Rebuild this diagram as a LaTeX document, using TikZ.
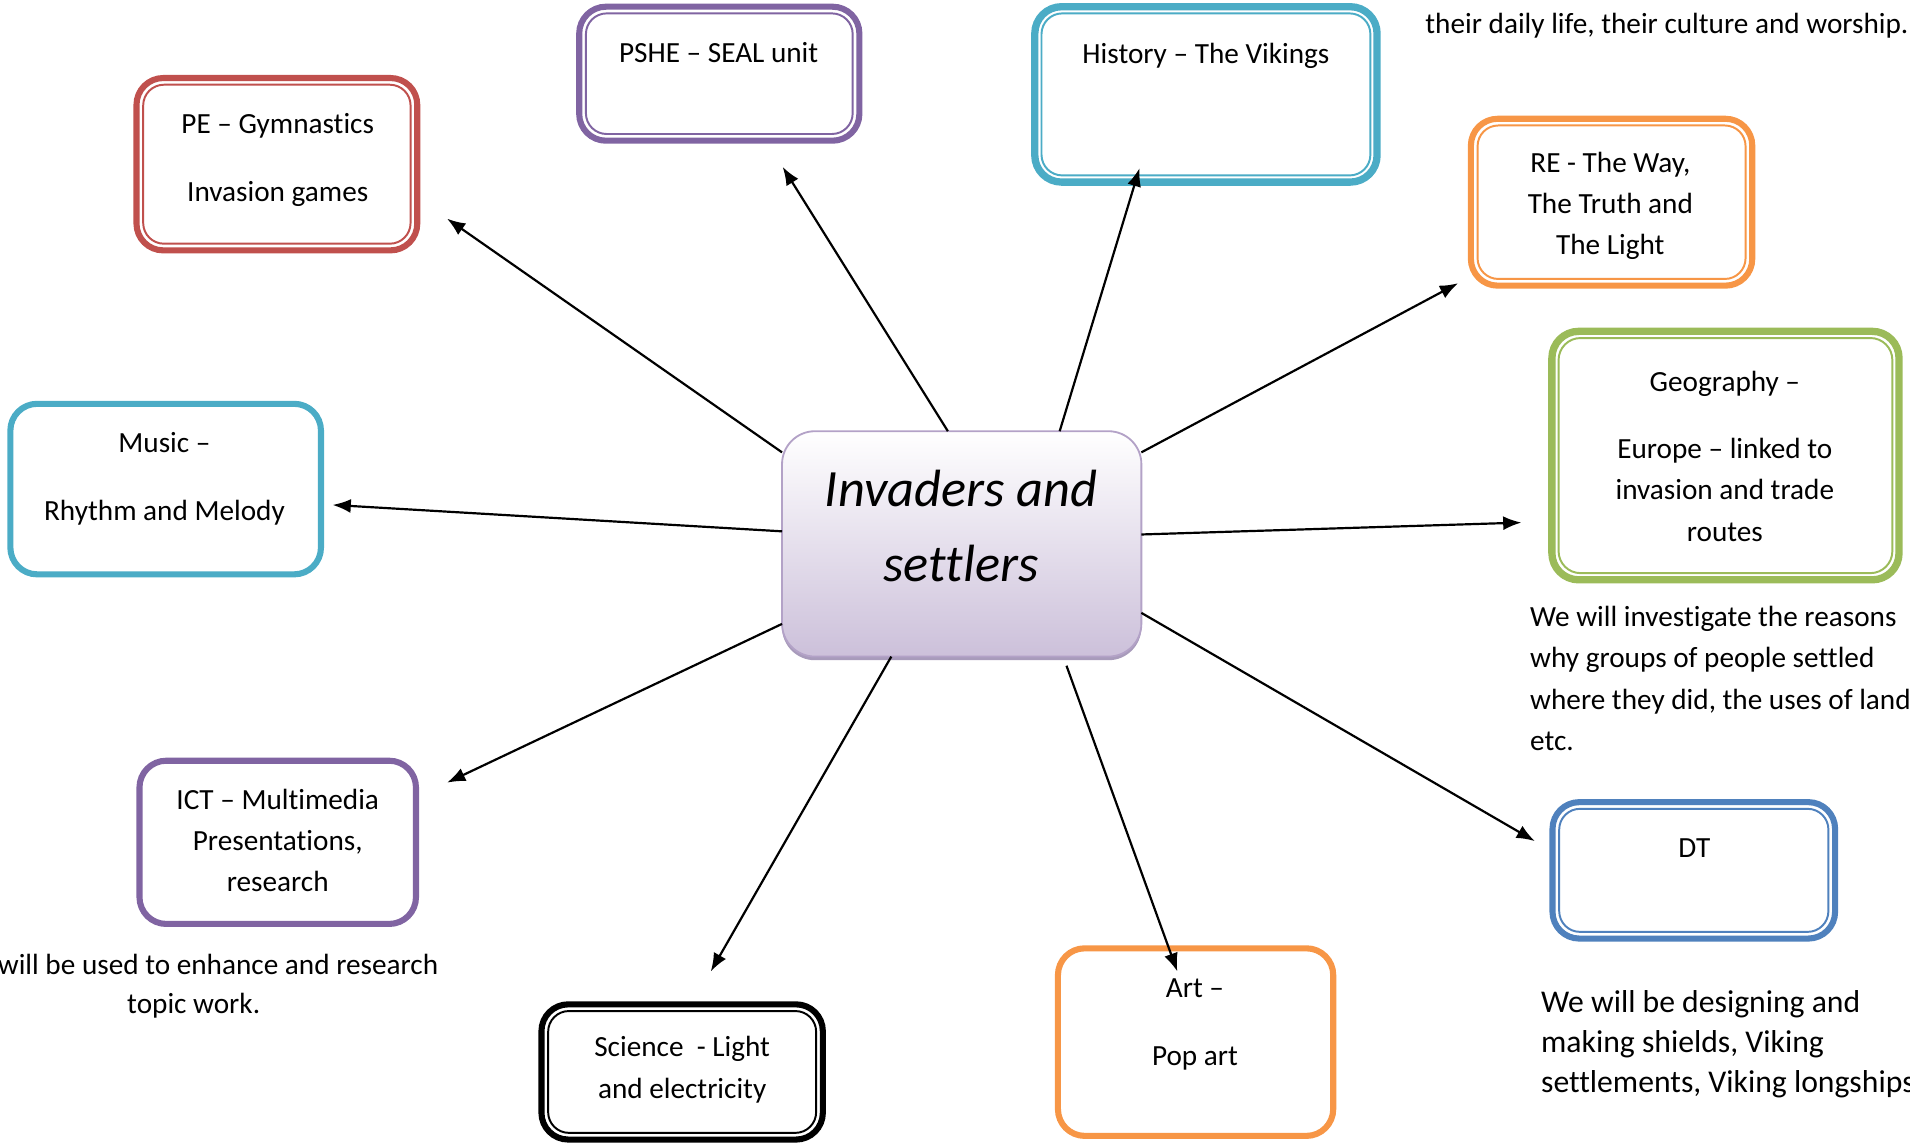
\documentclass[tikz,border=0pt]{standalone}
\usepackage{fontspec}
\setmainfont{Carlito}[RawFeature=-liga]
\usetikzlibrary{arrows.meta}
\definecolor{cred}{HTML}{C0504D}
\definecolor{cpurple}{HTML}{8064A2}
\definecolor{ccyan}{HTML}{4BACC6}
\definecolor{corange}{HTML}{F79646}
\definecolor{cgreen}{HTML}{9BBB59}
\definecolor{cblue}{HTML}{4F81BD}
\definecolor{lavborder}{HTML}{B3A2C7}
\definecolor{lavfill}{HTML}{CCC0DA}
\definecolor{lavshadow}{HTML}{A89BBB}
\newcommand\innerframe[3]{%
  \draw[draw=#2, line width=1.6pt, rounded corners=#3]
    ([shift={(5.5pt,-5.5pt)}]#1.north west) rectangle ([shift={(-5.5pt,5.5pt)}]#1.south east);}
\begin{document}
\begin{tikzpicture}[x=1pt, y=-1pt,
  sbox/.style={draw=#1, line width=5pt, rounded corners=22pt, fill=white, outer sep=0pt, inner sep=0pt},
  txt/.style={font=\fontsize{24}{34}\selectfont, align=center, inner sep=0pt},
  ltxt/.style={font=\fontsize{24}{34}\selectfont, align=left, inner sep=0pt, anchor=west},
  arr/.style={-{Latex[length=15pt,width=11.5pt]}, line width=1.8pt}]
\useasboundingbox (0,0) rectangle (1568,940);

% central
\node[fill=lavshadow, rounded corners=27pt, minimum width=295pt, minimum height=185pt, outer sep=0pt] (cshadow) at (789.5,449.5) {};
\node[draw=lavborder, line width=1.5pt, rounded corners=27pt, top color=white, bottom color=lavfill,
      minimum width=295pt, minimum height=185pt, outer sep=0pt] (c) at (789.5,446.5) {};
\node[font=\fontsize{43}{62}\selectfont\itshape, align=center, inner sep=0pt] (ctext) at (789,432) {Invaders and\\settlers};

% boxes
\node[sbox=cred, minimum width=230.5pt, minimum height=141.5pt] (pe) at (227.3,134.8) {};
\innerframe{pe}{cred}{17pt}
\node[txt] (pet) at (228,131) {PE – Gymnastics\\[22pt]Invasion games};

\node[sbox=cpurple, minimum width=230pt, minimum height=110pt] (pshe) at (590.5,60.5) {};
\innerframe{pshe}{cpurple}{17pt}
\node[txt] (psht) at (590,43) {PSHE – SEAL unit};

\node[sbox=ccyan, line width=6pt, minimum width=281pt, minimum height=144pt] (hist) at (990,77.5) {};
\innerframe{hist}{ccyan}{17pt}
\node[txt] (histt) at (990,46) {History – The Vikings};

\node[sbox=corange, minimum width=231pt, minimum height=137pt] (re) at (1323,166) {};
\innerframe{re}{corange}{17pt}
\node[txt] (ret) at (1322,169) {RE - The Way,\\The Truth and\\The Light};

\node[sbox=cgreen, line width=6pt, minimum width=285pt, minimum height=204pt] (geo) at (1416.5,374) {};
\innerframe{geo}{cgreen}{18pt}
\node[txt] (geot) at (1416,374.5) {Geography –\\[21pt]Europe – linked to\\invasion and trade\\routes};

\node[sbox=ccyan, minimum width=255pt, minimum height=140pt] (music) at (136,401.5) {};
\node[txt] (musict) at (135,393) {Music –\\[22pt]Rhythm and Melody};

\node[sbox=cpurple, minimum width=227pt, minimum height=134pt] (ict) at (228,691.5) {};
\node[txt] (ictt) at (228,690) {ICT – Multimedia\\Presentations,\\research};

\node[sbox=black, minimum width=231pt, minimum height=111pt] (sci) at (560,880) {};
\innerframe{sci}{black}{17pt}
\node[txt] (scit) at (560,878) {Science\ \ - Light\\and electricity};

\node[sbox=corange, minimum width=226pt, minimum height=154pt] (art) at (981.5,855.5) {};
\node[txt] (artt) at (981,841) {Art –\\[22pt]Pop art};

\node[sbox=cblue, minimum width=232pt, minimum height=112pt] (dt) at (1390.5,714.5) {};
\innerframe{dt}{cblue}{17pt}
\node[txt] (dtt) at (1391,696) {DT};

% free texts
\node[ltxt] (toptext) at (1170,21.5) {their daily life, their culture and worship.};
\node[ltxt] (geonote) at (1256,557) {We will investigate the reasons\\why groups of people settled\\where they did, the uses of land\\etc.};
\node[txt] (ictnote1) at (179,792) {will be used to enhance and research};
\node[txt] (ictnote2) at (159,826) {topic work.};
\node[ltxt, font=\fontsize{26}{33}\selectfont] (dtnote) at (1265,857) {We will be designing and\\making shields, Viking\\settlements, Viking longships};

% arrow tips
\coordinate (petip) at (367,179.5);
\coordinate (pshetip) at (642.5,137);
\coordinate (histtip) at (935.5,138);
\coordinate (retip) at (1197,232.5);
\coordinate (geotip) at (1249,429);
\coordinate (musictip) at (273,414.5);
\coordinate (icttip) at (367,642.5);
\coordinate (scitip) at (583.5,797.5);
\coordinate (arttip) at (966.5,797.5);
\coordinate (dttip) at (1260,690.5);

\draw[arr] (c.153) -- (petip);
\draw[arr] (c.97.1) -- (pshetip);
\draw[arr] (c.49.7) -- (histtip);
\draw[arr] (c.27.1) -- (retip);
\draw[arr] (c.3.7) -- (geotip);
\draw[arr] (c.176.3) -- (musictip);
\draw[arr] (c.204.8) -- (icttip);
\draw[arr] (c.238.2) -- (scitip);
\draw[arr, shorten <=8pt] (c.312.8) -- (arttip);
\draw[arr] (c.339.4) -- (dttip);
\end{tikzpicture}
\end{document}
